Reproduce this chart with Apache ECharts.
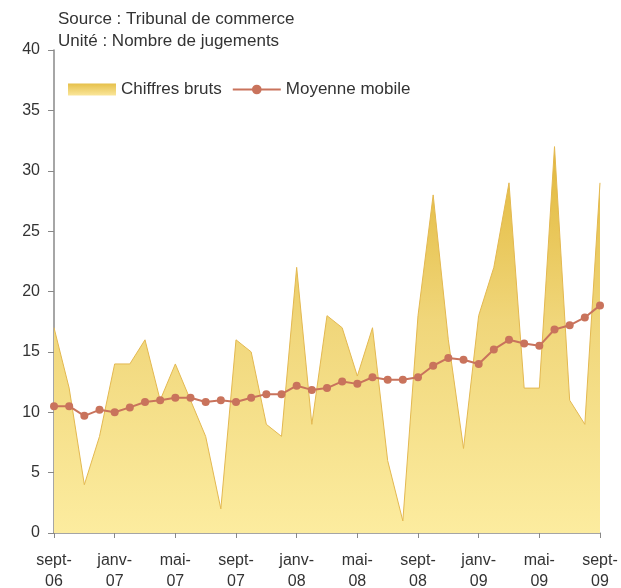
<!DOCTYPE html>
<html>
<head>
<meta charset="utf-8">
<script src="https://cdn.jsdelivr.net/npm/echarts@6/dist/echarts.min.js"></script>
<style>
  html, body { margin: 0; padding: 0; background: #fff; }
  #chart { width: 621px; height: 588px; }
</style>
</head>
<body>
<div id="chart"></div>
<script>
var months = ['sept-06','oct-06','nov-06','déc-06','janv-07','févr-07','mars-07','avr-07','mai-07','juin-07','juil-07','août-07',
  'sept-07','oct-07','nov-07','déc-07','janv-08','févr-08','mars-08','avr-08','mai-08','juin-08','juil-08','août-08',
  'sept-08','oct-08','nov-08','déc-08','janv-09','févr-09','mars-09','avr-09','mai-09','juin-09','juil-09','août-09','sept-09'];
var bruts = [17,12,4,8,14,14,16,11,14,11,8,2,16,15,9,8,22,9,18,17,13,17,6,1,18,28,16,7,18,22,29,12,12,32,11,9,29];
var moyenne = [10.5,10.5,9.7,10.2,10.0,10.4,10.85,11.0,11.2,11.2,10.85,11.0,10.85,11.2,11.5,11.5,12.2,11.85,12.0,
  12.55,12.35,12.9,12.7,12.7,12.9,13.85,14.5,14.35,14.0,15.2,16.0,15.7,15.5,16.85,17.2,17.85,18.85];

var myChart = echarts.init(document.getElementById('chart'));
var font = 'Liberation Sans, Arial, sans-serif';
var gold = new echarts.graphic.LinearGradient(0, 0, 0, 1, [
  {offset: 0, color: '#e2b83a'},
  {offset: 0.45, color: '#f0d67a'},
  {offset: 1, color: '#fcec9f'}
]);
var option = {
  animation: false,
  textStyle: {fontFamily: font},
  graphic: [
    {type: 'text', left: 58, top: 11, style: {text: 'Source : Tribunal de commerce', fontSize: 17, fill: '#333', fontFamily: font}},
    {type: 'text', left: 58, top: 33, style: {text: 'Unité : Nombre de jugements', fontSize: 17, fill: '#333', fontFamily: font}}
  ],
  legend: {
    left: 63,
    top: 76,
    itemGap: 10,
    itemWidth: 48,
    itemHeight: 12,
    textStyle: {fontSize: 17, color: '#333'},
    data: [
      {name: 'Chiffres bruts', icon: 'rect', itemStyle: {color: new echarts.graphic.LinearGradient(0, 0, 0, 1, [{offset: 0, color: '#e6c04a'}, {offset: 1, color: '#fae69a'}]), borderWidth: 0}},
      {name: 'Moyenne mobile'}
    ]
  },
  grid: {left: 54, right: 21, top: 50, bottom: 55, outerBoundsMode: 'none', containLabel: false},
  xAxis: {
    type: 'category',
    boundaryGap: false,
    data: months,
    axisLine: {lineStyle: {color: '#888', width: 1.5}},
    axisTick: {interval: 3, length: 5, lineStyle: {color: '#888'}},
    axisLabel: {
      interval: 3,
      fontSize: 16,
      color: '#333',
      margin: 17,
      lineHeight: 21,
      formatter: function (v) { return v.replace('-', '-\n'); }
    }
  },
  yAxis: {
    type: 'value',
    min: 0,
    max: 40,
    interval: 5,
    splitLine: {show: false},
    axisLine: {show: true, lineStyle: {color: '#888', width: 1.5}},
    axisTick: {show: true, length: 6, lineStyle: {color: '#888'}},
    axisLabel: {fontSize: 16, color: '#333', margin: 14}
  },
  series: [
    {
      name: 'Chiffres bruts',
      type: 'line',
      data: bruts,
      symbol: 'none',
      lineStyle: {color: '#e3b850', width: 1},
      itemStyle: {color: '#e8c560'},
      areaStyle: {color: gold, opacity: 1}
    },
    {
      name: 'Moyenne mobile',
      type: 'line',
      data: moyenne,
      symbol: 'circle',
      symbolSize: 8,
      lineStyle: {color: '#c9735c', width: 2},
      itemStyle: {color: '#c9735c'}
    }
  ]
};
myChart.setOption(option);
</script>
</body>
</html>
